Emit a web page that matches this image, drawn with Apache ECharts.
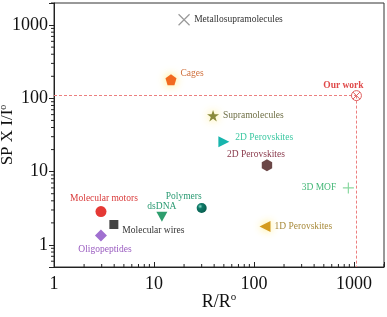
<!DOCTYPE html>
<html>
<head>
<meta charset="utf-8">
<script src="https://cdn.jsdelivr.net/npm/echarts@6/dist/echarts.min.js"></script>
<style>html,body{margin:0;padding:0;background:#fff}#c{width:387px;height:317px}</style>
</head>
<body>
<div id="c"></div>
<script>
// ---- data ----
var names = ['Metallosupramolecules','Cages','Our work','Supramolecules','2D Perovskites','2D Perovskites ','3D MOF','Polymers','1D Perovskites','dsDNA','Molecular motors','Molecular wires','Oligopeptides'];
var rValues  = [20, 14.8, 1060, 39, 50, 135, 880, 30, 129, 12, 2.95, 3.97, 2.95];
var spValues = [1180, 180, 109, 58, 25.6, 12.2, 6.0, 3.2, 1.78, 2.43, 2.85, 1.9, 1.34];
var xMinorTicks = [2,3,4,5,6,7,8,9,20,30,40,50,60,70,80,90,200,300,400,500,600,700,800,900,2000];
var yMinorTicks = [0.6,0.7,0.8,0.9,2,3,4,5,6,7,8,9,20,30,40,50,60,70,80,90,200,300,400,500,600,700,800,900,2000];
var xMin = 1, xMax = 2000, yMin = 0.5, yMax = 2000;

// ---- styles ----
var FONT = '"Liberation Serif", "DejaVu Serif", serif';
var glow = 'rgba(255,230,90,0.9)';
var circleX = 'path://M10,0 C15.52,0 20,4.48 20,10 C20,15.52 15.52,20 10,20 C4.48,20 0,15.52 0,10 C0,4.48 4.48,0 10,0 Z M2.93,2.93 L17.07,17.07 M17.07,2.93 L2.93,17.07';
var styles = [
  {sym:'path://M0,0 L10,10 M10,0 L0,10', size:11, fill:'transparent', stroke:'#999', bw:1.2, lc:'#333', pos:'right', off:[0,0]},
  {sym:'path://M5,0 L10,3.8 L8.1,10 L1.9,10 L0,3.8 Z', size:11, fill:'#f26a21', glow:true, lc:'#d0703c', pos:'right', off:[0,-6]},
  {sym:circleX, size:10, fill:'transparent', stroke:'#e06060', bw:1, lc:'#e04a4a', pos:'top', off:[-13,4], bold:true},
  {sym:'path://M5,0 L6.2,3.6 L10,3.6 L6.9,5.8 L8.1,9.5 L5,7.2 L1.9,9.5 L3.1,5.8 L0,3.6 L3.8,3.6 Z', size:12, fill:'#8a8a3c', glow:true, lc:'#6f6f45', pos:'right', off:[0,0]},
  {sym:'path://M0,0 L10,5 L0,10 Z', size:11, fill:'#17b5ad', lc:'#3cc8a2', pos:'right', off:[2,-4]},
  {sym:'path://M5,0 L9.33,2.5 L9.33,7.5 L5,10 L0.67,7.5 L0.67,2.5 Z', size:12, fill:'#6b4747', lc:'#8a3a4c', pos:'top', off:[-11,4]},
  {sym:'path://M5,0 L5,10 M0,5 L10,5', size:11, fill:'transparent', stroke:'#8ad8a0', bw:1.2, lc:'#45b878', pos:'left', off:[-2,0]},
  {sym:'circle', size:10, fill:'polymer', lc:'#2a9a72', pos:'top', off:[-18,3]},
  {sym:'path://M10,0 L0,5 L10,10 Z', size:11, fill:'#d49a1e', glow:true, lc:'#a88a3a', pos:'right', off:[0,0]},
  {sym:'path://M0,0 L10,0 L5,9 Z', size:11, fill:'#2e9e6e', lc:'#2a9a72', pos:'top', off:[0,4]},
  {sym:'circle', size:11, fill:'#e53935', lc:'#d93a3a', pos:'top', off:[3,1]},
  {sym:'rect', size:9, fill:'#444', lc:'#333', pos:'right', off:[0,6]},
  {sym:'diamond', size:12, fill:'#a070d0', lc:'#9a5cc0', pos:'bottom', off:[4,-1]}
];

var polymerGrad = new echarts.graphic.RadialGradient(0.35, 0.35, 0.75, [
  {offset:0, color:'#8fe0cf'}, {offset:0.3, color:'#0f7a68'}, {offset:1, color:'#085a4c'}
]);

var series = names.map(function (n, i) {
  var s = styles[i];
  var item = {
    color: s.fill === 'polymer' ? polymerGrad : s.fill,
    borderColor: s.stroke || 'transparent',
    borderWidth: s.stroke ? s.bw : 0,
    opacity: 1
  };
  if (s.glow) { item.shadowBlur = 8; item.shadowColor = glow; }
  var ser = {
    type: 'scatter',
    name: n,
    data: [[rValues[i], spValues[i]]],
    symbol: s.sym,
    symbolSize: s.size,
    symbolKeepAspect: true,
    itemStyle: item,
    z: 5,
    label: {
      show: true,
      formatter: n.trim(),
      position: s.pos,
      offset: s.off,
      distance: 4,
      color: s.lc,
      fontFamily: FONT,
      fontSize: 9.5,
      fontWeight: s.bold ? 'bold' : 'normal'
    },
    silent: true
  };
  if (n === 'Our work') {
    var ml = {color: '#ec7f7f', type: [3, 2], width: 1};
    ser.markLine = {
      silent: true,
      symbol: ['none', 'none'],
      label: {show: false},
      emphasis: {disabled: true},
      lineStyle: ml,
      data: [
        [{coord: [xMin, spValues[i]], lineStyle: ml}, {coord: [rValues[i], spValues[i]]}],
        [{coord: [rValues[i], spValues[i]], lineStyle: ml}, {coord: [rValues[i], yMin]}]
      ]
    };
  }
  return ser;
});

// minor ticks: thin rect symbols placed through the axis scales
series.push({
  type: 'scatter', silent: true, clip: false, z: 10,
  data: xMinorTicks.map(function (v) { return [v, yMin]; }),
  symbol: 'rect', symbolSize: [1, 3], symbolOffset: [0, -1.5],
  itemStyle: {color: '#222', opacity: 1}, label: {show: false}
});
series.push({
  type: 'scatter', silent: true, clip: false, z: 10,
  data: yMinorTicks.map(function (v) { return [xMin, v]; }),
  symbol: 'rect', symbolSize: [3, 1], symbolOffset: [-1.5, 0],
  itemStyle: {color: '#222', opacity: 1}, label: {show: false}
});

function powLabel(v) {
  var l = Math.log10(v);
  return Math.abs(l - Math.round(l)) < 1e-6 ? String(Math.round(v)) : '';
}

var chart = echarts.init(document.getElementById('c'), null, {renderer: 'canvas'});
chart.setOption({
  animation: false,
  backgroundColor: '#fff',
  grid: {left: 54, right: 3, top: 3, bottom: 50, containLabel: false, outerBoundsMode: 'none', show: true, borderColor: '#333', borderWidth: 1, backgroundColor: 'transparent'},
  xAxis: {
    type: 'log', logBase: 10, min: xMin, max: xMax,
    name: 'R/R{s|o}', nameLocation: 'middle', nameGap: 25, nameMoveOverlap: false,
    nameTextStyle: {fontFamily: FONT, fontSize: 18, color: '#111', rich: {s: {fontFamily: FONT, fontSize: 11, color: '#111', padding: [0, 0, 10, 0]}}},
    axisLine: {show: true, lineStyle: {color: '#222', width: 1}},
    axisTick: {show: true, inside: true, length: 5, lineStyle: {color: '#222'}},
    splitLine: {show: false},
    minorTick: {show: false},
    axisLabel: {formatter: powLabel, fontFamily: FONT, fontSize: 18, color: '#111', margin: 8}
  },
  yAxis: {
    type: 'log', logBase: 10, min: yMin, max: yMax,
    name: 'SP X I/I{s|o}', nameLocation: 'middle', nameGap: 37, nameRotate: 90, nameMoveOverlap: false,
    nameTextStyle: {fontFamily: FONT, fontSize: 17, color: '#111', rich: {s: {fontFamily: FONT, fontSize: 10, color: '#111', padding: [0, 0, 9, 0]}}},
    axisLine: {show: true, lineStyle: {color: '#222', width: 1}},
    axisTick: {show: true, inside: false, length: 5, lineStyle: {color: '#222'}},
    splitLine: {show: false},
    minorTick: {show: false},
    axisLabel: {formatter: powLabel, fontFamily: FONT, fontSize: 18, color: '#111', margin: 6}
  },
  series: series
});
</script>
</body>
</html>
